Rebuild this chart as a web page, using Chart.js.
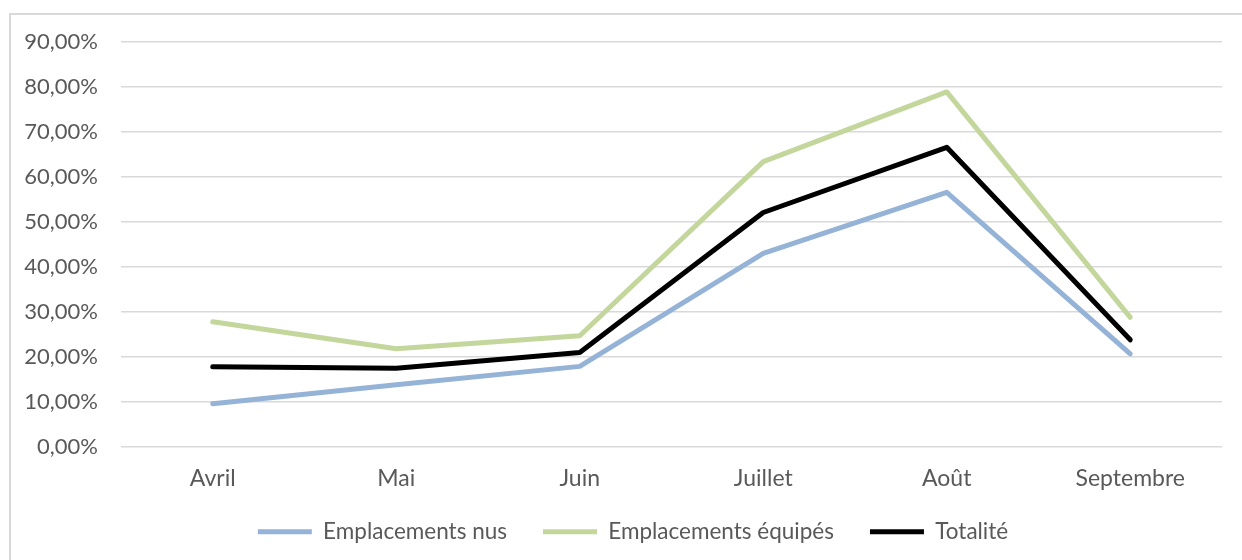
<!DOCTYPE html>
<html>
<head>
<meta charset="utf-8">
<script src="https://cdn.jsdelivr.net/npm/chart.js@4"></script>
<style>
  html, body { margin: 0; padding: 0; background: #fff; overflow: hidden; }
  #frame { position: absolute; left: 9px; top: 13px; width: 1300px; height: 600px;
           border-left: 2px solid #d9d9d9; border-top: 2px solid #d9d9d9; }
  #wrap { position: absolute; left: 0; top: 0; width: 1242px; height: 560px; }
</style>
</head>
<body>
<div id="frame"></div>
<div id="wrap"><canvas id="c" width="1242" height="560"></canvas></div>
<script>
const categories = ['Avril', 'Mai', 'Juin', 'Juillet', 'Août', 'Septembre'];
const emplacementsNus = [9.6, 13.8, 17.9, 43.0, 56.6, 20.7];
const emplacementsEquipes = [27.8, 21.8, 24.7, 63.4, 78.9, 28.8];
const totalite = [17.8, 17.5, 21.0, 52.1, 66.6, 23.8];
const yTicks = [0, 10, 20, 30, 40, 50, 60, 70, 80, 90];

const FONT = 'Lato, "Open Sans", sans-serif';
const TXT = '#595959';

const legendShift = {
  id: 'legendShift',
  afterLayout(chart) {
    const lg = chart.legend;
    if (!lg) return;
    lg.left += 22; lg.right += 22;
    lg.top -= 26; lg.bottom -= 26;
  }
};

new Chart(document.getElementById('c'), {
  type: 'line',
  data: {
    labels: categories,
    datasets: [
      { label: 'Emplacements nus', data: emplacementsNus, borderColor: '#95b3d7', backgroundColor: '#95b3d7' },
      { label: 'Emplacements équipés', data: emplacementsEquipes, borderColor: '#c3d69b', backgroundColor: '#c3d69b' },
      { label: 'Totalité', data: totalite, borderColor: '#000000', backgroundColor: '#000000' }
    ].map(d => Object.assign(d, {
      borderWidth: 5, pointRadius: 0, pointHoverRadius: 0, tension: 0,
      borderCapStyle: 'round', borderJoinStyle: 'round', fill: false, pointStyle: 'line'
    }))
  },
  plugins: [legendShift],
  options: {
    responsive: false,
    animation: false,
    devicePixelRatio: 1,
    layout: { padding: { left: 0, right: 20, top: 42, bottom: -19 } },
    plugins: {
      tooltip: { enabled: false },
      legend: {
        position: 'bottom',
        labels: {
          usePointStyle: true,
          pointStyleWidth: 54,
          boxHeight: 5,
          padding: 36,
          color: TXT,
          font: { family: FONT, size: 22.5 }
        }
      }
    },
    scales: {
      x: {
        offset: true,
        grid: { display: false, drawTicks: false },
        border: { display: false },
        ticks: { color: TXT, padding: 18, font: { family: FONT, size: 23 } }
      },
      y: {
        min: 0, max: 90,
        afterBuildTicks: s => { s.ticks = yTicks.map(v => ({ value: v })); },
        afterFit: s => { s.width = 121; },
        grid: { color: '#d9d9d9', lineWidth: 1.5, drawTicks: false },
        border: { display: false },
        ticks: {
          color: TXT, padding: 23, font: { family: FONT, size: 22 },
          callback: v => v.toFixed(2).replace('.', ',') + '%'
        }
      }
    }
  }
});
</script>
</body>
</html>
